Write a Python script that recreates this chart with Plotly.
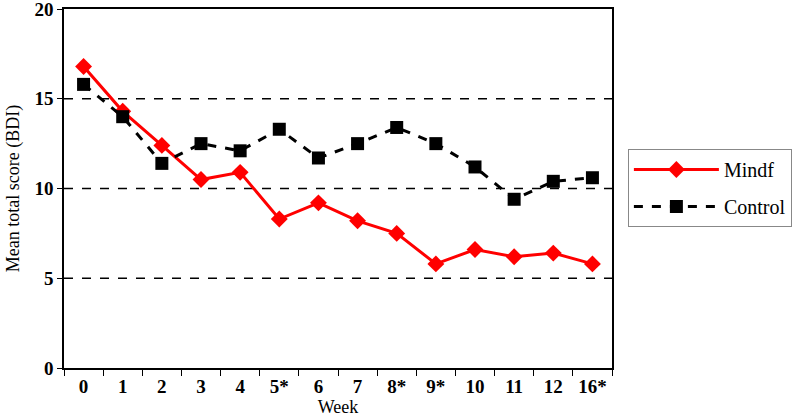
import plotly.graph_objects as go

weeks = ["0", "1", "2", "3", "4", "5*", "6", "7", "8*", "9*", "10", "11", "12", "16*"]
mindf = [16.8, 14.3, 12.4, 10.5, 10.9, 8.3, 9.2, 8.2, 7.5, 5.8, 6.6, 6.2, 6.4, 5.8]
control = [15.8, 14.0, 11.4, 12.5, 12.1, 13.3, 11.7, 12.5, 13.4, 12.5, 11.2, 9.4, 10.4, 10.6]
y_ticks = [0, 5, 10, 15, 20]

FONT = "Liberation Serif"

fig = go.Figure()
fig.add_trace(go.Scatter(
    x=weeks, y=mindf, name="Mindf", mode="lines+markers", legendgroup="a",
    line=dict(color="#ff0000", width=3),
    marker=dict(symbol="diamond", size=13, color="#ff0000"),
))
fig.add_trace(go.Scatter(
    x=weeks, y=control, name="Control", mode="lines+markers", legendgroup="b",
    line=dict(color="#000000", width=3, dash="dash"),
    marker=dict(symbol="square", size=13, color="#000000"),
))

for v in [5, 10, 15]:
    fig.add_shape(type="line", xref="paper", x0=0, x1=1, yref="y", y0=v, y1=v,
                  line=dict(color="black", width=1.3, dash="dash"), layer="below")

fig.update_layout(
    width=800, height=420,
    margin=dict(l=64, r=188, t=9, b=52, autoexpand=False),
    paper_bgcolor="white", plot_bgcolor="white",
    font=dict(family=FONT, color="black", size=18),
    showlegend=True,
    legend=dict(
        x=1.029, y=0.61, xanchor="left", yanchor="top",
        bordercolor="#888888", borderwidth=1,
        font=dict(size=20, family=FONT),
        tracegroupgap=8, itemwidth=85,
    ),
    xaxis=dict(
        type="category", tickson="boundaries", ticks="outside", ticklen=6,
        tickcolor="black", showgrid=False, showline=True, linecolor="black",
        linewidth=1.5, mirror=True, automargin=False,
        tickvals=weeks, ticktext=["<b>" + w + "</b>" for w in weeks],
        tickfont=dict(size=19),
        title=dict(text="Week", font=dict(size=18), standoff=0),
        range=[-0.5, 13.5],
    ),
    yaxis=dict(
        range=[0, 20], tickvals=y_ticks, ticktext=["<b>%d</b>" % v for v in y_ticks],
        ticks="outside", ticklen=5, automargin=False, ticklabeloverflow="allow",
        tickcolor="black", showgrid=False, zeroline=False, showline=True,
        linecolor="black", linewidth=1.5, mirror=True,
        tickfont=dict(size=19),
        title=dict(text="Mean total score (BDI)", font=dict(size=18), standoff=10),
    ),
)

fig.write_html("out.html", config={"displayModeBar": False},
               post_script="document.body.style.margin='0';document.body.style.overflow='hidden';")
